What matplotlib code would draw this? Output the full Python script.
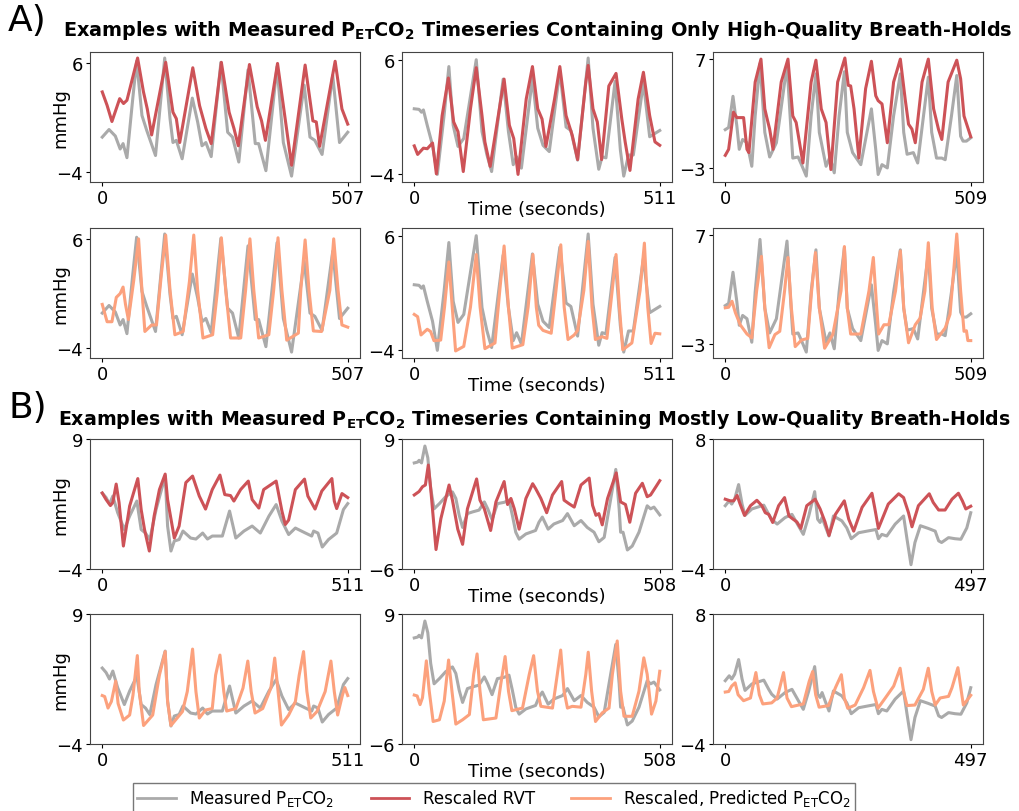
import matplotlib
matplotlib.use('Agg')
import matplotlib.pyplot as plt
from matplotlib.lines import Line2D

# ---------------- datos ----------------
# Seccion A, columna 1
a1_meas_t = [0, 14, 27, 37, 43, 51, 63, 71, 82, 92, 110, 129, 140, 146, 153, 165, 186, 197, 206, 214, 225, 245, 259, 269, 282, 301, 316, 323, 338, 361, 374, 391, 417, 429, 439, 454, 476, 490, 507]
a1_meas = [-0.8, -0.1, -0.7, -1.9, -1.4, -2.7, 2.75, 6.2, 1.2, -0.2, -2.5, 6.5, 0.9, -1.3, -1.1, -2.8, 2.8, 0.6, -1.6, -1.3, -2.6, 6.1, -0.35, -0.8, -3.1, 5.4, -1.4, -1.4, -3.9, 5.7, -1.3, -4.4, 4.0, -0.8, -1.1, -2.4, 4.9, -1.3, -0.35]
a1_rvt_t = [0, 10, 20, 36, 44, 51, 73, 85, 93, 102, 131, 146, 153, 160, 187, 201, 214, 225, 246, 262, 272, 281, 304, 320, 329, 337, 362, 391, 419, 435, 442, 449, 481, 495, 507]
a1_rvt = [3.37, 2.13, 0.64, 2.75, 2.3, 2.6, 6.5, 3.4, 1.8, -0.6, 6.1, 1.5, 0.9, -1.3, 5.6, 2.1, 0.0, -1.4, 6.1, 1.5, 0.0, -1.6, 5.9, 2.0, 0.7, -1.1, 6.0, -3.4, 5.85, 0.7, 0.6, -1.65, 6.2, 1.8, 0.4]
a1_pred_t = [0, 10, 20, 29, 37, 43, 48, 54, 65, 75, 82, 88, 102, 112, 122, 131, 140, 150, 167, 180, 189, 197, 208, 228, 238, 246, 255, 265, 286, 296, 305, 313, 323, 344, 354, 363, 371, 381, 405, 410, 419, 427, 436, 453, 470, 478, 487, 495, 507]
a1_pred = [0.0, -1.6, -1.6, 0.65, 1.0, 1.6, 0.0, -1.4, 2.2, 6.05, 1.3, -2.5, -1.9, -1.9, 2.75, 6.4, 1.3, -2.8, -2.5, 2.1, 6.4, 1.3, -3.1, -2.8, 1.3, 6.15, 1.3, -3.1, -3.1, 1.3, 6.05, 1.3, -3.1, -2.8, 1.3, 6.15, 1.3, -3.3, -2.65, 1.3, 5.95, 1.3, -2.45, -2.5, 1.3, 6.05, 1.3, -1.9, -2.1]

# Seccion A, columna 2
a2_meas_t = [0, 10, 15, 19, 27, 38, 48, 62, 72, 81, 91, 103, 129, 141, 151, 161, 185, 196, 206, 213, 223, 246, 257, 268, 281, 303, 316, 326, 340, 362, 372, 384, 391, 399, 418, 429, 436, 446, 456, 477, 490, 511]
a2_meas = [1.7, 1.65, 1.4, 1.6, 0.25, -1.5, -4.05, 1.1, 5.4, 0.25, -1.6, -0.9, 6.0, -0.3, -2.3, -3.8, 4.3, -0.3, -3.2, -2.5, -3.5, 4.4, 0.0, -1.5, -2.05, 5.0, 0.1, -0.2, -2.8, 6.15, 0.0, -3.6, -2.5, -2.6, 4.1, -1.9, -4.2, -2.35, -2.35, 4.0, -0.75, -0.2]
a2_rvt_t = [0, 7, 19, 27, 38, 46, 58, 71, 82, 91, 102, 117, 129, 141, 147, 158, 187, 198, 207, 216, 233, 246, 257, 266, 274, 292, 303, 316, 329, 340, 357, 362, 372, 381, 390, 405, 420, 432, 439, 449, 466, 477, 490, 501, 511]
a2_rvt = [-1.55, -2.3, -1.75, -1.8, -1.3, -4.0, 1.1, 4.4, 0.55, -0.3, -3.8, 1.7, 5.3, 1.1, -1.2, -3.35, 4.3, 0.25, -0.9, -4.05, 2.55, 5.4, 1.7, 0.8, -1.6, 2.55, 5.4, 1.1, -0.65, -2.75, 4.0, 5.5, 1.7, 0.55, -2.75, 3.7, 4.8, 0.8, -1.2, -3.7, 2.55, 4.9, 1.1, -1.2, -1.5]
a2_pred_t = [0, 7, 14, 27, 34, 41, 55, 63, 72, 79, 86, 103, 117, 129, 137, 147, 168, 178, 187, 196, 204, 226, 237, 247, 254, 259, 268, 285, 295, 305, 312, 320, 333, 340, 353, 362, 370, 377, 391, 401, 412, 420, 427, 434, 453, 470, 479, 486, 493, 501, 511]
a2_pred = [-0.9, -1.1, -2.7, -2.2, -2.4, -3.2, -3.15, -0.25, 3.7, -0.25, -4.1, -3.7, -0.25, 4.35, -0.25, -3.9, -3.4, 1.2, 5.1, -0.25, -3.85, -3.55, -0.25, 4.35, -0.25, -1.85, -2.3, -2.55, 1.2, 5.2, -0.25, -3.1, -2.7, -2.3, 1.2, 5.5, -0.25, -3.1, -2.85, -3.0, 1.2, 4.35, -0.25, -4.0, -3.4, 1.2, 5.35, -0.25, -3.45, -2.55, -2.6]

# Seccion A, columna 3
a3_meas_t = [0, 7, 16, 24, 29, 36, 45, 55, 62, 72, 82, 92, 106, 128, 137, 140, 151, 158, 168, 178, 188, 195, 209, 217, 226, 236, 247, 253, 264, 281, 303, 312, 317, 325, 336, 349, 363, 370, 377, 390, 399, 411, 421, 428, 438, 449, 456, 469, 480, 488, 493, 500, 509]
a3_meas = [0.5, 0.7, 3.55, 0.85, -1.3, -0.4, -0.7, -2.85, 1.75, 6.55, 0.25, -2.0, -0.7, 6.4, -0.1, -2.1, -2.0, -2.7, -3.75, 1.75, 5.6, 0.25, -2.85, -2.0, -3.45, 1.75, 5.8, 0.25, -1.6, -2.7, 2.4, -1.3, -3.6, -2.7, -3.0, 1.75, 5.6, 0.25, -1.75, -1.6, -2.55, 1.75, 5.3, 0.25, -2.1, -2.1, -2.25, 1.75, 5.45, -0.1, -0.55, -0.55, -0.25]
a3_rvt_t = [0, 7, 17, 24, 38, 45, 49, 62, 74, 82, 87, 92, 99, 116, 130, 140, 147, 161, 178, 188, 199, 209, 219, 233, 248, 255, 260, 267, 277, 291, 303, 312, 317, 325, 336, 349, 363, 373, 380, 387, 394, 408, 421, 432, 442, 449, 462, 480, 488, 495, 509]
a3_rvt = [-1.85, -1.3, 2.1, 1.6, 1.6, -1.3, -1.6, 4.85, 6.95, 2.4, 1.45, 0.55, -1.3, 4.85, 6.95, 1.75, 1.15, -2.55, 4.85, 6.85, 2.4, 1.15, -3.15, 4.85, 7.05, 4.55, 4.5, 2.4, -2.1, 4.25, 6.75, 3.6, 3.15, 2.85, -0.7, 4.85, 6.95, 3.3, 1.0, 0.55, -0.7, 4.85, 6.95, 2.4, 0.55, -0.4, 4.85, 6.85, 5.15, 1.75, -0.15]
a3_pred_t = [0, 7, 14, 21, 31, 45, 55, 65, 75, 82, 91, 103, 113, 123, 130, 137, 145, 158, 171, 179, 187, 195, 206, 223, 240, 247, 253, 260, 281, 298, 307, 314, 318, 329, 339, 353, 363, 370, 380, 394, 404, 414, 421, 429, 438, 456, 466, 473, 480, 488, 495, 500, 503, 509]
a3_pred = [0.3, 0.35, 0.9, -0.15, -1.25, -2.1, -2.45, 1.85, 5.0, 0.3, -3.35, -2.15, -1.85, 1.85, 4.9, 0.3, -3.25, -2.65, -2.5, 1.85, 5.35, 0.3, -3.4, -2.15, 1.85, 5.9, 0.3, -2.1, -2.1, 1.85, 4.9, 0.3, -2.1, -1.25, -1.25, 1.85, 5.5, 0.3, -2.9, -1.25, -0.65, 1.85, 6.25, 0.3, -2.6, -1.55, -0.3, 3.35, 7.05, 1.85, -1.85, -1.8, -2.7, -2.7]

# Seccion B, columna 1
b1_meas_t = [0, 8, 15, 22, 32, 46, 57, 72, 81, 90, 99, 112, 131, 136, 143, 150, 160, 168, 184, 195, 209, 219, 229, 250, 265, 278, 295, 312, 329, 347, 362, 374, 388, 402, 423, 436, 440, 449, 458, 471, 488, 502, 511]
b1_meas = [3.6, 3.15, 2.5, 3.3, 1.65, -0.05, 1.3, 2.8, -0.05, -0.4, -1.05, 1.95, 5.3, 0.3, -2.2, -1.2, -1.05, -0.2, -0.9, -1.0, -0.4, -1.0, -0.7, -0.7, 1.8, -0.9, -0.2, 0.3, -0.4, 1.3, 2.45, 0.8, -0.55, 0.1, -0.4, -0.7, -0.2, -0.4, -1.8, -1.05, -0.4, 1.95, 2.55]
b1_rvt_t = [0, 8, 17, 22, 29, 35, 44, 57, 74, 81, 88, 98, 108, 119, 131, 136, 150, 160, 174, 188, 202, 215, 229, 245, 255, 267, 274, 288, 304, 312, 326, 336, 362, 374, 381, 388, 402, 421, 428, 443, 457, 478, 483, 488, 499, 511]
b1_rvt = [3.6, 2.95, 2.35, 2.65, 4.5, 2.65, -1.7, 2.3, 5.05, 1.95, -0.05, -2.2, 1.3, 3.95, 5.5, 2.95, -0.9, 0.3, 4.65, 5.3, 3.3, 2.0, 3.95, 5.4, 3.45, 3.35, 2.8, 3.95, 4.8, 2.95, 2.1, 3.95, 4.8, 1.8, 0.45, 0.9, 3.95, 5.0, 3.3, 2.0, 3.8, 5.05, 2.8, 2.05, 3.55, 3.15]
b1_pred_t = [0, 5, 12, 19, 28, 33, 44, 57, 64, 73, 77, 86, 105, 119, 131, 136, 143, 167, 177, 188, 195, 202, 215, 229, 236, 245, 253, 259, 278, 293, 303, 310, 318, 334, 351, 359, 366, 373, 388, 402, 410, 419, 426, 434, 447, 464, 476, 483, 490, 500, 505, 511]
b1_pred = [0.85, 0.75, -0.4, 0.25, 2.3, 0.05, -1.6, -1.1, 0.9, 4.85, 1.25, -2.15, -1.1, 2.9, 5.25, 0.25, -2.15, -0.75, 1.25, 5.5, 1.25, -1.4, -0.6, -0.45, 2.9, 4.9, 1.25, -0.7, -0.45, 1.6, 4.3, 1.25, -0.9, -0.45, 1.6, 4.6, 1.25, -2.1, -1.1, 0.25, 2.9, 5.25, 1.25, -1.4, -0.75, 1.25, 4.3, 1.25, -1.1, 0.9, 1.65, 0.85]

# Seccion B, columna 2
b2_meas_t = [0, 7, 10, 15, 22, 28, 34, 41, 52, 65, 79, 86, 93, 100, 110, 121, 134, 145, 152, 161, 172, 186, 196, 203, 210, 217, 231, 251, 258, 265, 277, 289, 307, 317, 331, 345, 358, 372, 382, 393, 403, 417, 424, 427, 432, 441, 451, 465, 482, 489, 496, 508]
b2_meas = [6.25, 6.35, 6.55, 6.25, 8.2, 6.85, 3.3, 0.95, 1.55, 2.35, 2.9, 2.15, 0.2, -1.2, 0.4, 0.6, 0.8, 1.75, 0.95, -0.3, 1.55, 1.7, 1.95, 0.2, -1.75, -2.55, -1.95, -1.55, -0.6, 0.0, -1.4, -0.8, -0.4, 0.4, -1.0, -0.4, -1.2, -1.75, -2.85, -2.35, 0.95, 5.5, 0.95, -1.75, -1.75, -3.8, -3.35, -1.75, 1.3, 0.95, 1.15, 0.25]
b2_rvt_t = [0, 10, 17, 23, 29, 34, 45, 55, 72, 79, 90, 100, 110, 121, 129, 136, 145, 158, 169, 186, 193, 200, 207, 217, 231, 245, 251, 262, 274, 286, 305, 310, 320, 331, 345, 362, 369, 376, 382, 389, 400, 418, 427, 437, 446, 458, 472, 482, 489, 500, 508]
b2_rvt = [2.55, 2.95, 3.5, 3.7, 6.0, 3.3, -3.75, -0.2, 3.7, 1.95, -1.4, -3.15, 0.95, 2.95, 4.4, 1.95, 0.95, -1.55, 1.75, 4.1, 1.45, 2.15, 0.95, -1.4, 2.15, 3.85, 3.3, 2.15, 0.5, 2.55, 4.1, 1.95, 1.55, 1.15, 3.7, 4.5, 1.35, 0.2, 0.4, -0.9, 2.15, 5.1, 1.75, 1.45, -0.6, 2.75, 3.9, 2.35, 2.55, 3.5, 4.2]
b2_pred_t = [0, 6, 12, 17, 25, 31, 39, 52, 62, 71, 78, 86, 100, 114, 123, 130, 136, 143, 169, 179, 188, 195, 202, 224, 238, 247, 255, 262, 286, 296, 303, 310, 317, 327, 345, 355, 360, 367, 375, 389, 403, 410, 420, 427, 434, 451, 465, 475, 482, 491, 500, 508]
b2_pred = [-0.35, -0.45, -1.45, -0.65, 3.6, 0.1, -3.4, -3.2, -1.05, 3.7, 0.1, -3.7, -3.2, -2.6, 2.05, 4.4, 0.1, -3.2, -3.0, 0.9, 4.1, 0.1, -2.15, -1.85, 2.05, 4.2, 0.1, -1.65, -1.85, 2.05, 4.85, 0.1, -1.85, -1.65, -1.75, 2.05, 4.6, 0.1, -3.4, -2.4, -1.85, 2.05, 5.9, 0.1, -2.8, -2.8, 0.1, 3.95, 2.05, -2.55, -1.05, 2.4]

# Seccion B, columna 3
b3_meas_t = [0, 8, 13, 19, 27, 34, 40, 54, 78, 88, 94, 105, 121, 135, 148, 158, 169, 181, 187, 192, 196, 202, 210, 219, 236, 246, 255, 270, 287, 305, 310, 317, 327, 344, 361, 368, 376, 384, 395, 411, 425, 432, 438, 452, 465, 477, 489, 497]
b3_meas = [1.85, 2.3, 2.0, 2.45, 3.8, 2.0, 0.95, 1.55, 1.9, 1.05, 0.6, 0.15, 0.75, 1.05, 0.0, -0.8, 0.9, 3.15, 0.6, 0.3, 0.75, 0.0, -0.95, 0.9, 0.45, -0.2, -1.2, -0.65, -0.5, -0.35, -1.2, -0.8, -0.95, 0.15, 0.9, -1.25, -3.6, -1.55, 0.0, -0.25, -0.5, -1.4, -1.55, -1.1, -1.2, -1.25, -0.2, 1.2]
b3_rvt_t = [0, 10, 17, 24, 30, 39, 51, 64, 74, 81, 88, 96, 108, 120, 129, 136, 145, 153, 165, 182, 192, 202, 210, 223, 241, 250, 260, 277, 297, 303, 310, 330, 351, 361, 371, 378, 391, 413, 421, 432, 445, 459, 472, 480, 487, 497]
b3_rvt = [2.45, 2.3, 2.3, 2.8, 2.0, 0.95, 1.85, 2.35, 1.85, 1.2, 1.05, 0.3, 1.85, 2.6, 0.9, 0.65, 0.35, -0.25, 1.85, 2.45, 1.55, 0.35, -0.9, 1.05, 2.3, 0.6, -0.5, 1.7, 3.0, 1.55, -0.25, 2.0, 2.95, 2.6, 1.2, -0.1, 1.85, 2.95, 2.15, 1.45, 1.45, 2.45, 3.0, 2.3, 1.55, 1.8]
b3_pred_t = [0, 7, 13, 20, 26, 37, 51, 62, 69, 76, 94, 105, 118, 125, 134, 158, 170, 177, 183, 190, 209, 223, 235, 241, 248, 263, 280, 293, 300, 309, 324, 341, 354, 361, 368, 384, 401, 411, 418, 425, 435, 452, 459, 471, 478, 482, 493, 497]
b3_pred = [0.8, 0.85, 1.35, 1.65, 0.55, 0.0, 0.25, 2.6, 0.55, -0.3, -0.2, 0.25, 2.6, 0.25, -0.55, -0.3, 1.8, 2.7, 0.55, -0.6, -0.45, 1.2, 2.4, 0.25, -0.7, -0.4, 1.2, 2.8, 0.85, -0.7, 0.25, 1.35, 3.0, 0.85, -0.45, -0.4, 1.05, 3.0, 0.85, -0.4, 0.25, 0.4, 1.2, 3.05, 0.85, -0.4, 0.25, 0.5]

# marcas del eje y de cada columna
a_yticks = [[-4, 6], [-4, 6], [-3, 7]]
b_yticks = [[-4, 9], [-6, 9], [-4, 8]]

# ---------------- estilo ----------------
c_meas = '#aaaaaa'
c_rvt = '#cd5257'
c_pred = '#fca17d'

fig = plt.figure(figsize=(10.19, 8.12), dpi=100)

lefts = [0.0883, 0.3945, 0.6997]
bottoms = [0.7746, 0.5579, 0.298, 0.0825]
w, h = 0.265, 0.160

secciones = [
    ([(a1_meas_t, a1_meas), (a2_meas_t, a2_meas), (a3_meas_t, a3_meas)],
     [(a1_rvt_t, a1_rvt), (a2_rvt_t, a2_rvt), (a3_rvt_t, a3_rvt)],
     [(a1_pred_t, a1_pred), (a2_pred_t, a2_pred), (a3_pred_t, a3_pred)],
     a_yticks, False),
    ([(b1_meas_t, b1_meas), (b2_meas_t, b2_meas), (b3_meas_t, b3_meas)],
     [(b1_rvt_t, b1_rvt), (b2_rvt_t, b2_rvt), (b3_rvt_t, b3_rvt)],
     [(b1_pred_t, b1_pred), (b2_pred_t, b2_pred), (b3_pred_t, b3_pred)],
     b_yticks, True),
]

fila = 0
for meas, rvt, pred, yticks, fijar in secciones:
    for serie, color in [(rvt, c_rvt), (pred, c_pred)]:
        for col in range(3):
            ax = fig.add_axes([lefts[col], bottoms[fila], w, h])
            tm, vm = meas[col]
            ts, vs = serie[col]
            ax.plot(tm, vm, color=c_meas, lw=2.2, solid_joinstyle='round')
            ax.plot(ts, vs, color=color, lw=2.2, solid_joinstyle='round')
            ax.set_xticks([0, tm[-1]])
            ax.set_yticks(yticks[col])
            if fijar:
                ax.set_ylim(yticks[col][0], yticks[col][1])
            ax.tick_params(labelsize=13, length=3, pad=2)
            for s in ax.spines.values():
                s.set_color('#444444')
            if col == 0:
                ax.set_ylabel('mmHg', fontsize=13, labelpad=-9)
            if col == 1:
                ax.set_xlabel('Time (seconds)', fontsize=13, labelpad=-5)
        fila += 1

fig.text(0.008, 0.974, 'A)', fontsize=26, va='center', ha='left')
fig.text(0.528, 0.963, r'Examples with Measured P$_{\mathbf{ET}}$CO$_{\mathbf{2}}$ Timeseries Containing Only High-Quality Breath-Holds',
         fontsize=13.9, fontweight='bold', ha='center', va='center')
fig.text(0.008, 0.497, 'B)', fontsize=26, va='center', ha='left')
fig.text(0.524, 0.483, r'Examples with Measured P$_{\mathbf{ET}}$CO$_{\mathbf{2}}$ Timeseries Containing Mostly Low-Quality Breath-Holds',
         fontsize=13.7, fontweight='bold', ha='center', va='center')

handles = [Line2D([], [], color=c_meas, lw=2),
           Line2D([], [], color=c_rvt, lw=2),
           Line2D([], [], color=c_pred, lw=2)]
labels = [r'Measured P$_{\mathrm{ET}}$CO$_2$', 'Rescaled RVT', r'Rescaled, Predicted P$_{\mathrm{ET}}$CO$_2$']
fig.legend(handles, labels, loc='lower center', bbox_to_anchor=(0.485, -0.006), ncol=3,
           fontsize=12, handlelength=2.3, columnspacing=2.2, frameon=True, edgecolor='#555555',
           fancybox=False, borderaxespad=0.2, borderpad=0.25)

fig.savefig('out.png', dpi=100)
